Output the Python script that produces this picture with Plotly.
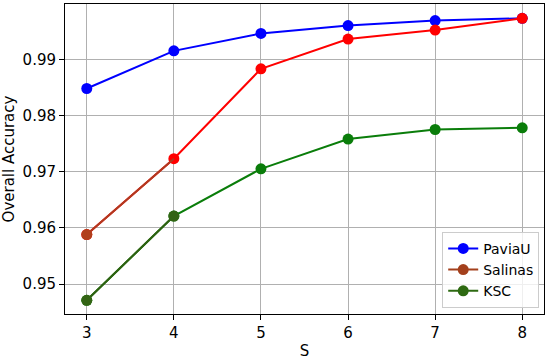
import plotly.graph_objects as go

# window size S
s_values = [3, 4, 5, 6, 7, 8]
paviau = [0.9848, 0.9915, 0.9946, 0.9960, 0.9969, 0.9973]
salinas = [0.9588, 0.9723, 0.9883, 0.9936, 0.9952, 0.9973]
ksc = [0.9471, 0.9621, 0.9705, 0.9758, 0.9775, 0.9778]

font = dict(family="DejaVu Sans", size=15, color="black")

fig = go.Figure()

series = [
    ("PaviaU", paviau, "#0000ff", "#0000ff"),
    ("Salinas", salinas, "#ff0000", "#a3401c"),
    ("KSC", ksc, "#0a7d0a", "#2e6a12"),
]

for name, vals, color, legend_color in series:
    fig.add_trace(go.Scatter(x=s_values, y=vals, mode="lines+markers", showlegend=False,
                             line=dict(color=color, width=2),
                             marker=dict(color=color, size=11)))

# the first segment of Salinas / KSC looks darker in the original
fig.add_trace(go.Scatter(x=s_values[:2], y=salinas[:2], mode="lines", showlegend=False,
                         line=dict(color="#b03a20", width=2)))
fig.add_trace(go.Scatter(x=s_values[:1], y=salinas[:1], mode="markers", showlegend=False,
                         marker=dict(color="#b0401c", size=11)))
fig.add_trace(go.Scatter(x=s_values[:2], y=ksc[:2], mode="lines", showlegend=False,
                         line=dict(color="#2e6010", width=2)))
fig.add_trace(go.Scatter(x=s_values[:2], y=ksc[:2], mode="markers", showlegend=False,
                         marker=dict(color="#336414", size=11)))

# legend entries
for name, vals, color, legend_color in series:
    fig.add_trace(go.Scatter(x=[None], y=[None], mode="lines+markers", name=name,
                             line=dict(color=legend_color, width=2),
                             marker=dict(color=legend_color, size=11)))

axis_common = dict(showline=True, linecolor="black", linewidth=1, mirror=True,
                   showgrid=True, gridcolor="#b0b0b0", gridwidth=1,
                   ticks="outside", ticklen=5, tickcolor="black", zeroline=False,
                   tickfont=font, title_font=font, automargin=False)

fig.update_layout(
    width=550, height=360,
    margin=dict(l=65, r=6, t=4, b=46),
    plot_bgcolor="white", paper_bgcolor="white",
    font=font,
    xaxis=dict(title=dict(text="S"), range=[2.75, 8.25],
               tickmode="array", tickvals=s_values, **axis_common),
    yaxis=dict(title=dict(text="Overall Accuracy"), range=[0.94466, 0.99984],
               tickmode="array", tickvals=[0.95, 0.96, 0.97, 0.98, 0.99],
               tickformat=".2f", **axis_common),
    legend=dict(x=0.99, y=0.02, xanchor="right", yanchor="bottom",
                bgcolor="rgba(255,255,255,0.8)", bordercolor="#cccccc", borderwidth=1,
                font=dict(family="DejaVu Sans", size=14, color="black"),
                tracegroupgap=0, itemwidth=30),
)

# drop the default page margin so the figure sits at the window's corner
fig.write_html("out.html", config={"displayModeBar": False},
               post_script="document.body.style.margin='0px';")
